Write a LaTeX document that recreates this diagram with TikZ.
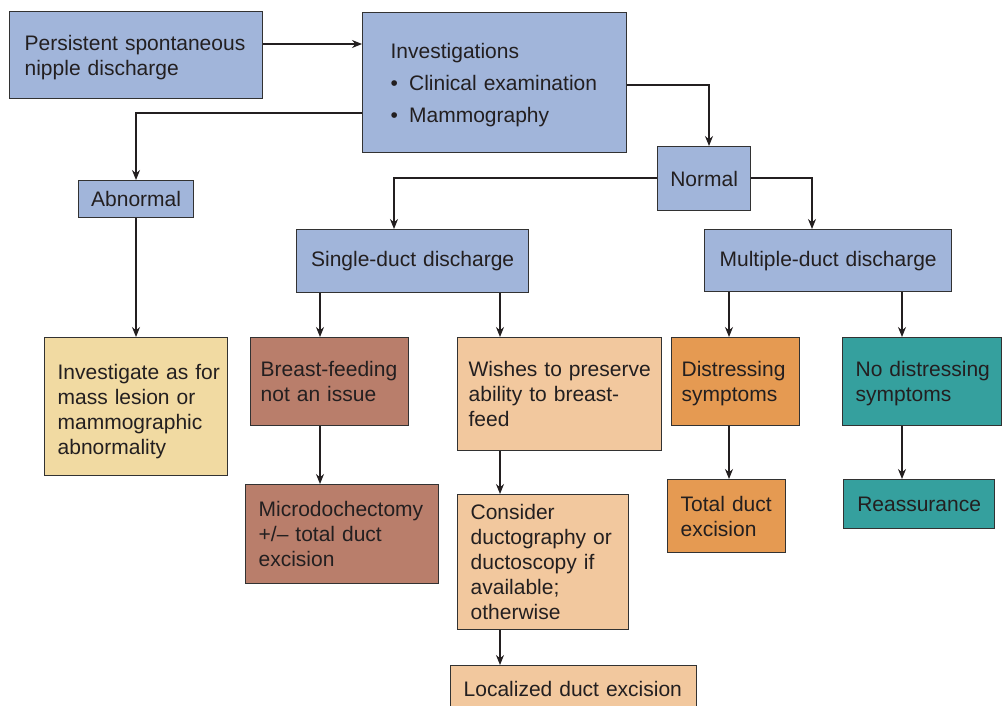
\documentclass[tikz,border=0pt]{standalone}
\usepackage{fontspec}
\setmainfont{Liberation Sans}
\usetikzlibrary{arrows.meta}
\definecolor{bxblue}{RGB}{161,181,218}
\definecolor{bxbrown}{RGB}{185,126,107}
\definecolor{bxpeach}{RGB}{242,200,158}
\definecolor{bxsand}{RGB}{241,218,162}
\definecolor{bxorange}{RGB}{229,154,82}
\definecolor{bxteal}{RGB}{53,160,158}
\definecolor{edge}{RGB}{50,50,50}
\definecolor{ink}{RGB}{35,31,32}
% lines of a box, kept exactly as broken here, set a little low
\newcommand\boxlines[2][-2.5pt]{\raisebox{#1}[\height][\depth]{\begin{tabular}{@{}l@{}}#2\end{tabular}}}
\tikzset{
  box/.style={draw=edge, line width=1.3pt, anchor=north west, text=ink,
    align=left, inner ysep=0pt, font=\fontsize{21}{25}\selectfont},
  arr/.style={-{Stealth[length=10pt,width=8pt]}, line width=1.2pt, draw=ink}
}
\begin{document}
\begin{tikzpicture}[x=1pt,y=-1pt]
\useasboundingbox (0,0) rectangle (1003,706);

% boxes
\node[box, fill=bxblue, inner xsep=15pt, text width=223pt, minimum height=87pt] (p) at (9,11)
  {\boxlines{Persistent spontaneous\\nipple discharge}};
\node[box, fill=bxblue, inner xsep=28pt, text width=208pt, minimum height=140pt] (inv) at (362,12)
  {\boxlines{Investigations\\[7pt]\makebox[18.5pt][l]{•}Clinical examination\\[7pt]\makebox[18.5pt][l]{•}Mammography}};
\node[box, fill=bxblue, align=center, inner xsep=8pt, text width=99pt, minimum height=37pt] (ab) at (78,180)
  {Abnormal};
\node[box, fill=bxblue, align=center, inner xsep=8pt, text width=77pt, minimum height=64pt] (nm) at (657,146)
  {Normal};
\node[box, fill=bxblue, align=center, inner xsep=8pt, text width=216pt, minimum height=63pt] (sd) at (296,229)
  {Single-duct discharge};
\node[box, fill=bxblue, align=center, inner xsep=8pt, text width=231pt, minimum height=62pt] (md) at (704,229)
  {Multiple-duct discharge};
\node[box, fill=bxsand, inner xsep=13pt, text width=157pt, minimum height=138pt] (ia) at (44,337)
  {\boxlines[-5pt]{Investigate as for\\mass lesion or\\mammographic\\abnormality}};
\node[box, fill=bxbrown, inner xsep=10pt, text width=138pt, minimum height=88pt] (bf) at (250,337)
  {\boxlines{Breast-feeding\\not an issue}};
\node[box, fill=bxpeach, inner xsep=11pt, text width=182pt, minimum height=113pt] (wp) at (457,337)
  {\boxlines{Wishes to preserve\\ability to breast-\\feed}};
\node[box, fill=bxorange, inner xsep=10pt, text width=108pt, minimum height=88pt] (ds) at (671,337)
  {\boxlines{Distressing\\symptoms}};
\node[box, fill=bxteal, inner xsep=13pt, text width=133pt, minimum height=88pt] (nd) at (842,337)
  {\boxlines{No distressing\\symptoms}};
\node[box, fill=bxbrown, inner xsep=13pt, text width=167pt, minimum height=99pt] (mc) at (245,484)
  {\boxlines{Microdochectomy\\+/– total duct\\excision}};
\node[box, fill=bxpeach, inner xsep=13pt, text width=145pt, minimum height=135pt] (cd) at (457,494)
  {\boxlines{Consider\\ductography or\\ductoscopy if\\available;\\otherwise}};
\node[box, fill=bxorange, inner xsep=13pt, text width=92pt, minimum height=73pt] (td) at (667,479)
  {\boxlines{Total duct\\excision}};
\node[box, fill=bxteal, align=center, inner xsep=8pt, text width=135pt, minimum height=49pt] (re) at (843,479)
  {Reassurance};
\node[box, fill=bxpeach, inner xsep=13pt, text width=220pt, minimum height=46pt] (lo) at (450,665)
  {\boxlines{Localized duct excision}};

% routing coordinates
\coordinate (r1) at (0,44);
\coordinate (r2) at (136,113);
\coordinate (r3) at (709,85);
\coordinate (r4) at (394,178);
\coordinate (r5) at (812,178);
\coordinate (c320) at (320,0);
\coordinate (c500) at (500,0);
\coordinate (c729) at (729,0);
\coordinate (c902) at (902,0);

% connectors
\draw[arr] (p.east |- r1) -- (inv.west |- r1);
\draw[arr] (inv.west |- r2) -| (ab.north -| r2);
\draw[arr] (inv.east |- r3) -| (nm.north -| r3);
\draw[arr] (nm.west |- r4) -| (sd.north -| r4);
\draw[arr] (nm.east |- r5) -| (md.north -| r5);
\draw[arr] (ab.south -| r2) -- (ia.north -| r2);
\draw[arr] (sd.south -| c320) -- (bf.north -| c320);
\draw[arr] (sd.south -| c500) -- (wp.north -| c500);
\draw[arr] (md.south -| c729) -- (ds.north -| c729);
\draw[arr] (md.south -| c902) -- (nd.north -| c902);
\draw[arr] (bf.south -| c320) -- (mc.north -| c320);
\draw[arr] (wp.south -| c500) -- (cd.north -| c500);
\draw[arr] (cd.south -| c500) -- (lo.north -| c500);
\draw[arr] (ds.south -| c729) -- (td.north -| c729);
\draw[arr] (nd.south -| c902) -- (re.north -| c902);
\end{tikzpicture}
\end{document}
